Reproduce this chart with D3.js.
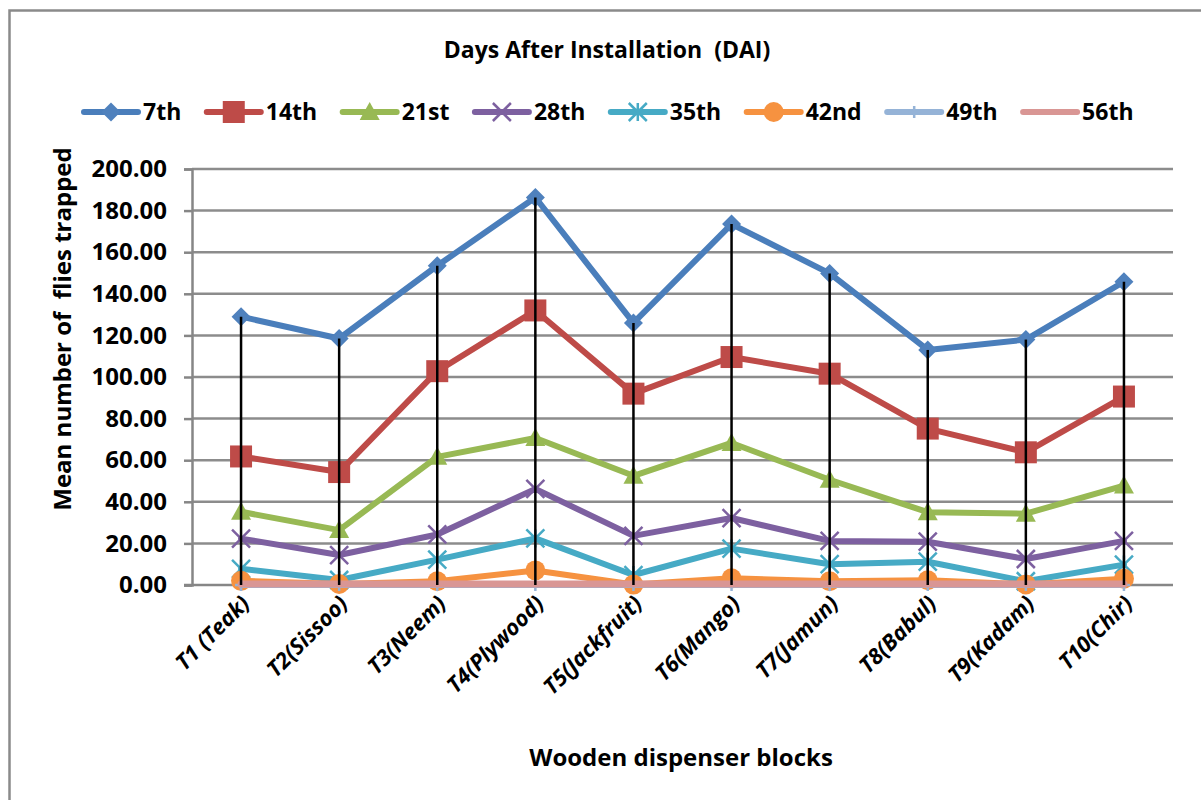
<!DOCTYPE html>
<html>
<head>
<meta charset="utf-8">
<script src="https://cdn.jsdelivr.net/npm/d3@7"></script>
<style>
  html, body { margin: 0; padding: 0; background: #fff; }
  svg { display: block; }
  text { font-family: "Open Sans", Lato, "Liberation Sans", sans-serif; font-weight: bold; fill: #000; }
</style>
</head>
<body>
<svg id="chart" width="1201" height="800"></svg>
<script>
// Wooden dispenser blocks (categories)
const categories = ["T1 (Teak)", "T2(Sissoo)", "T3(Neem)", "T4(Plywood)", "T5(Jackfruit)",
                    "T6(Mango)", "T7(Jamun)", "T8(Babul)", "T9(Kadam)", "T10(Chir)"];

// Days after installation (series names)
const seriesNames = ["7th", "14th", "21st", "28th", "35th", "42nd", "49th", "56th"];

// Mean number of flies trapped, one array per day
const day7  = [129.0, 118.5, 153.5, 186.3, 126.0, 173.5, 149.8, 113.0, 118.0, 145.8];
const day14 = [61.8, 54.3, 102.8, 132.0, 92.0, 109.6, 101.6, 75.2, 63.8, 90.6];
const day21 = [35.2, 26.4, 61.6, 70.7, 52.5, 68.3, 50.6, 35.0, 34.3, 47.8];
const day28 = [22.3, 14.4, 24.3, 46.2, 23.6, 32.2, 21.2, 20.8, 12.5, 21.2];
const day35 = [7.8, 2.4, 12.2, 22.4, 4.8, 17.5, 10.0, 11.2, 1.8, 9.8];
const day42 = [2.0, 0.5, 1.8, 7.0, 0.2, 3.2, 1.8, 2.3, 0.3, 3.0];
const day49 = [0, 0, 0, 0, 0, 0, 0, 0, 0, 0];
const day56 = [0.5, 0.5, 0.5, 0.5, 0.5, 0.5, 0.5, 0.5, 0.5, 0.5];

// Y axis tick values
const yTicks = [0, 20, 40, 60, 80, 100, 120, 140, 160, 180, 200];

const seriesValues = [day7, day14, day21, day28, day35, day42, day49, day56];

// Styling per series: line colour, marker colour, marker shape
const styles = [
  { line: "#4A7EBB", fill: "#4F81BD", marker: "diamond" },
  { line: "#BE4B48", fill: "#BE4B48", marker: "square" },
  { line: "#98B954", fill: "#98B954", marker: "triangle" },
  { line: "#7D60A0", fill: "#7D60A0", marker: "x" },
  { line: "#46AAC5", fill: "#46AAC5", marker: "star" },
  { line: "#F69240", fill: "#F69240", marker: "circle" },
  { line: "#95B3D7", fill: "#95B3D7", marker: "plus" },
  { line: "#D99694", fill: "#D99694", marker: "none" }
];

const series = seriesNames.map((name, i) => ({
  name,
  style: styles[i],
  points: categories.map((c, j) => ({ cat: c, value: seriesValues[i][j] }))
}));

const svg = d3.select("#chart");

// Chart frame (left and top edges)
svg.append("path")
  .attr("d", "M9.5,800 L9.5,10.5 L1201,10.5")
  .attr("fill", "none")
  .attr("stroke", "#8a8a8a")
  .attr("stroke-width", 2.5);

const plot = { left: 192, right: 1173, top: 169, bottom: 585 };

const x = d3.scaleBand().domain(categories).range([plot.left, plot.right]);
const cx = c => x(c) + x.bandwidth() / 2;
const y = d3.scaleLinear().domain([0, 200]).range([plot.bottom, plot.top]);

// Horizontal gridlines
svg.append("g")
  .selectAll("line")
  .data(yTicks.filter(t => t > 0))
  .join("line")
  .attr("x1", plot.left).attr("x2", plot.right)
  .attr("y1", d => y(d)).attr("y2", d => y(d))
  .attr("stroke", "#8c8c8c").attr("stroke-width", 2.5);

// Y axis
const yAxis = svg.append("g")
  .attr("transform", `translate(${plot.left},0)`)
  .call(d3.axisLeft(y).tickValues(yTicks).tickFormat(d3.format(".2f")).tickSize(8).tickPadding(17));
yAxis.attr("font-family", null);
yAxis.select(".domain").attr("stroke", "#868686").attr("stroke-width", 2.5);
yAxis.selectAll(".tick line").attr("stroke", "#868686").attr("stroke-width", 2.5);
yAxis.selectAll(".tick text")
  .attr("font-size", 24).attr("fill", "#000");

// X axis line
svg.append("line")
  .attr("x1", plot.left - 8).attr("x2", plot.right)
  .attr("y1", y(0)).attr("y2", y(0))
  .attr("stroke", "#868686").attr("stroke-width", 2.5);

// X category labels
svg.append("g")
  .selectAll("text")
  .data(categories)
  .join("text")
  .attr("transform", d => `translate(${cx(d) + 10},${y(0) + 20}) rotate(-45)`)
  .attr("text-anchor", "end")
  .attr("font-size", 22)
  .attr("font-style", "italic")
  .text(d => d);

// Marker path builder
function markerPath(type, s) {
  const h = s / 2;
  switch (type) {
    case "diamond": return `M0,${-h}L${h},0L0,${h}L${-h},0Z`;
    case "square": return `M${-h},${-h}H${h}V${h}H${-h}Z`;
    case "triangle": return `M0,${-h}L${h},${h * 0.8}L${-h},${h * 0.8}Z`;
    case "x": return `M${-h},${-h}L${h},${h}M${-h},${h}L${h},${-h}`;
    case "star": return `M${-h},${-h}L${h},${h}M${-h},${h}L${h},${-h}M0,${-h}V${h}`;
    case "plus": return `M0,${-h}V${h}M${-h},0H${h}`;
    default: return "";
  }
}
const markerSize = { diamond: 19, square: 22, triangle: 20, x: 18, star: 18, plus: 12 };

function drawMarker(g, type, fill) {
  if (type === "none") return;
  if (type === "circle") {
    g.append("circle").attr("r", 10).attr("fill", fill);
    return;
  }
  const p = g.append("path").attr("d", markerPath(type, markerSize[type]));
  if (type === "x" || type === "star" || type === "plus") {
    p.attr("fill", "none").attr("stroke", fill).attr("stroke-width", 2.5);
  } else {
    p.attr("fill", fill);
  }
}

const line = d3.line().x(d => cx(d.cat)).y(d => y(d.value));

// Series lines and markers
series.forEach(s => {
  const g = svg.append("g");
  g.append("path")
    .attr("d", line(s.points))
    .attr("fill", "none")
    .attr("stroke", s.style.line)
    .attr("stroke-width", s.style.marker === "none" ? 7 : 6)
    .attr("stroke-linejoin", "round")
    .attr("stroke-linecap", "round");
  s.points.forEach(p => {
    const mg = g.append("g").attr("transform", `translate(${cx(p.cat)},${y(p.value)})`);
    drawMarker(mg, s.style.marker, s.style.fill);
  });
});

// High-low lines: from the highest to the lowest series value per block
svg.append("g")
  .selectAll("line")
  .data(categories)
  .join("line")
  .attr("x1", d => cx(d)).attr("x2", d => cx(d))
  .attr("y1", (d, j) => y(d3.max(seriesValues, v => v[j])))
  .attr("y2", (d, j) => y(d3.min(seriesValues, v => v[j])))
  .attr("stroke", "#000").attr("stroke-width", 2.5);

// Title
svg.append("text")
  .attr("x", 607).attr("y", 58)
  .attr("text-anchor", "middle")
  .attr("font-size", 23)
  .style("white-space", "pre")
  .text("Days After Installation  (DAI)");

// Legend
const legend = svg.append("g").attr("transform", "translate(82,112)");
let lx = 0;
series.forEach(s => {
  const item = legend.append("g").attr("transform", `translate(${lx},0)`);
  item.append("line")
    .attr("x1", 2).attr("x2", 56).attr("y1", 0).attr("y2", 0)
    .attr("stroke", s.style.line).attr("stroke-width", 6).attr("stroke-linecap", "round");
  const mg = item.append("g").attr("transform", "translate(29,0)");
  drawMarker(mg, s.style.marker, s.style.fill);
  const t = item.append("text")
    .attr("x", 61).attr("y", 0).attr("dy", "0.36em")
    .attr("font-size", 23)
    .text(s.name);
  lx += 61 + t.node().getComputedTextLength() + 23.5;
});

// Axis titles
svg.append("text")
  .attr("transform", `translate(71,329) rotate(-90)`)
  .attr("text-anchor", "middle")
  .attr("font-size", 24)
  .style("white-space", "pre")
  .text("Mean number of  flies trapped");

svg.append("text")
  .attr("x", 681).attr("y", 766)
  .attr("text-anchor", "middle")
  .attr("font-size", 24)
  .text("Wooden dispenser blocks");
</script>
</body>
</html>
